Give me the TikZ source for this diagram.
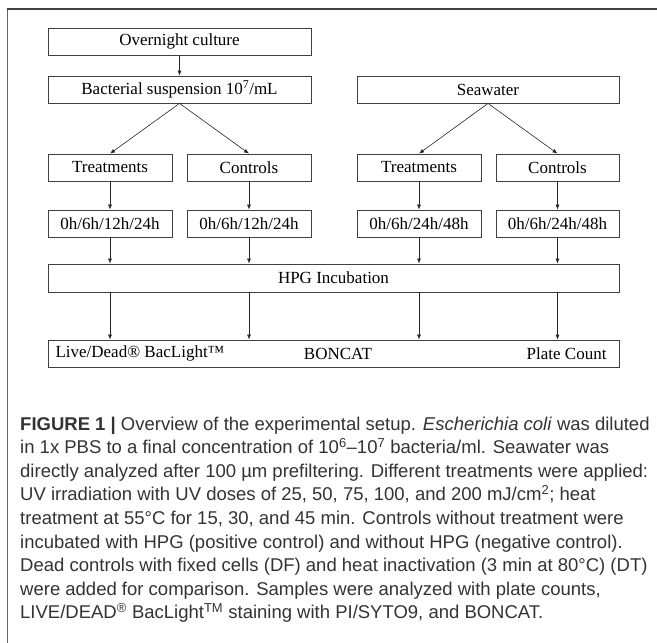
\documentclass[tikz,border=0pt]{standalone}
\usepackage{fontspec}
\setmainfont{Liberation Serif}
\newfontfamily\capfont{Liberation Sans}
\usetikzlibrary{arrows.meta}
\usetikzlibrary{calc}

\begin{document}
\begin{tikzpicture}[x=1pt, y=-1pt,
    box/.style={draw=black!75, line width=0.8pt, inner sep=0pt, minimum height=27pt,
      font=\fontsize{17}{20}\selectfont},
    flow/.style={-{Latex[length=5pt,width=4pt]}, line width=0.6pt, black!85},
    capline/.style={anchor=base west, inner sep=0pt, text=black!80,
      font=\capfont\fontsize{18.5}{22}\selectfont}]
    \useasboundingbox (0,0) rectangle (657,643);
    % frame round the figure
    \draw[line width=0.8pt, black!60] (7,9) -- (7,643);
    \draw[line width=1.6pt, black!75] (6.6,9) -- (657,9);

    % sources
    \node[box, minimum width=263pt] (culture) at (179.5, 41.5) {Overnight culture};
    \node[box, minimum width=263pt] (susp) at (179.5, 89.5) {Bacterial suspension 10\textsuperscript{7}/mL};
    \node[box, minimum width=262pt] (sea) at (488, 89.5) {Seawater};

    % groups
    \node[box, minimum width=124pt] (treatA) at (110, 167.5) {Treatments};
    \node[box, minimum width=124pt] (ctrlA) at (249, 167.5) {Controls};
    \node[box, minimum width=124pt] (treatB) at (419, 167.5) {Treatments};
    \node[box, minimum width=123pt] (ctrlB) at (557.5, 167.5) {Controls};

    % sampling times
    \node[box, minimum width=124pt] (timeA1) at (110, 223.5) {0h/6h/12h/24h};
    \node[box, minimum width=124pt] (timeA2) at (249, 223.5) {0h/6h/12h/24h};
    \node[box, minimum width=124pt] (timeB1) at (419, 223.5) {0h/6h/24h/48h};
    \node[box, minimum width=123pt] (timeB2) at (557.5, 223.5) {0h/6h/24h/48h};

    \node[box, minimum width=571pt, minimum height=28pt] (hpg) at (333.5, 278) {HPG Incubation};
    \node[box, minimum width=571pt] (assay) at (333.5, 353.5) {};
    \node[anchor=west, font=\fontsize{17}{20}\selectfont] (livedead) at (52, 353.5) {Live/Dead® BacLight™};
    \node[font=\fontsize{17}{20}\selectfont] (boncat) at (338, 353.5) {BONCAT};
    \node[anchor=east, font=\fontsize{17}{20}\selectfont] (plate) at (610, 353.5) {Plate Count};

    % connectors
    \draw[flow] (culture) -- (susp);
    \draw[flow] (susp.south) -- (treatA.north);
    \draw[flow] (susp.south) -- (ctrlA.north);
    \draw[flow] (sea.south) -- (treatB.north);
    \draw[flow] (sea.south) -- (ctrlB.north);
    \foreach \g in {A1, A2, B1, B2} {
      \draw[flow] (time\g.south) -- (time\g.south |- hpg.north);
      \draw[flow] (hpg.south -| time\g) -- (assay.north -| time\g);
    }
    \draw[flow] (treatA) -- (timeA1);
    \draw[flow] (ctrlA) -- (timeA2);
    \draw[flow] (treatB) -- (timeB1);
    \draw[flow] (ctrlB) -- (timeB2);

    % caption
    \node[capline] (cap1) at (20, 430) {\textbf{FIGURE 1 |} Overview of the experimental setup. \textit{Escherichia coli} was diluted};
    \node[capline] (cap2) at (20, 453.6) {in 1x PBS to a final concentration of 10\textsuperscript{6}\textendash 10\textsuperscript{7} bacteria/ml. Seawater was};
    \node[capline] (cap3) at (20, 477.2) {directly analyzed after 100 µm prefiltering. Different treatments were applied:};
    \node[capline] (cap4) at (20, 500.8) {UV irradiation with UV doses of 25, 50, 75, 100, and 200 mJ/cm\textsuperscript{2}; heat};
    \node[capline] (cap5) at (20, 524.4) {treatment at 55°C for 15, 30, and 45 min. Controls without treatment were};
    \node[capline] (cap6) at (20, 548) {incubated with HPG (positive control) and without HPG (negative control).};
    \node[capline] (cap7) at (20, 571.6) {Dead controls with fixed cells (DF) and heat inactivation (3 min at 80°C) (DT)};
    \node[capline] (cap8) at (20, 595.2) {were added for comparison. Samples were analyzed with plate counts,};
    \node[capline] (cap9) at (20, 618.8) {LIVE/DEAD\textsuperscript{®} BacLight\textsuperscript{TM} staining with PI/SYTO9, and BONCAT.};
\end{tikzpicture}
\end{document}
